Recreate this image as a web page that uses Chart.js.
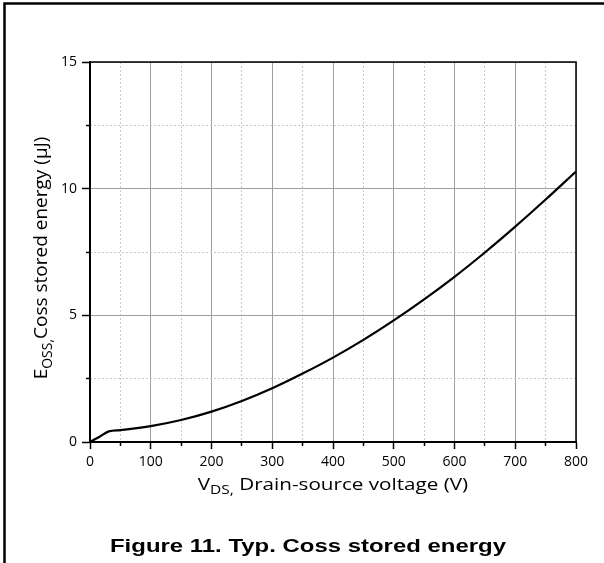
<!DOCTYPE html>
<html>
<head>
<meta charset="utf-8">
<script src="https://cdn.jsdelivr.net/npm/chart.js@4/dist/chart.umd.min.js"></script>
<style>
  html, body { margin: 0; padding: 0; background: #fff; }
  canvas { display: block; }
</style>
</head>
<body>
<canvas id="chart" width="604" height="563"></canvas>
<script>
// values
const voltage = [0, 15, 31, 50, 100, 150, 200, 250, 300, 350, 400, 450, 500, 550, 600, 650, 700, 750, 800];
const energy  = [0, 0.2, 0.42, 0.47, 0.63, 0.87, 1.2, 1.62, 2.12, 2.7, 3.33, 4.03, 4.8, 5.63, 6.52, 7.48, 8.5, 9.57, 10.68];

const xTickLabels = [0, 100, 200, 300, 400, 500, 600, 700, 800];
const yTickLabels = [0, 5, 10, 15];

const tickFont = { family: '"Open Sans", "DejaVu Sans", sans-serif', size: 14 };

// axis titles with subscripts + outer frame + plot box
const extras = {
  id: 'extras',
  afterDraw(chart) {
    const ctx = chart.ctx;
    const a = chart.chartArea;
    ctx.save();

    // frame of the figure (top and left only)
    ctx.strokeStyle = '#000';
    ctx.lineWidth = 2.5;
    ctx.beginPath();
    ctx.moveTo(4.5, 563);
    ctx.lineTo(4.5, 3.5);
    ctx.lineTo(604, 3.5);
    ctx.stroke();

    // top / right of plot box
    ctx.lineWidth = 1.5;
    ctx.beginPath();
    ctx.moveTo(a.left, a.top);
    ctx.lineTo(a.right, a.top);
    ctx.lineTo(a.right, a.bottom);
    ctx.stroke();

    ctx.fillStyle = '#000';
    ctx.textBaseline = 'alphabetic';

    function subText(parts, cx, cy, size, stretch) {
      const big = size + 'px "Open Sans", "DejaVu Sans", sans-serif';
      const small = Math.round(size * 0.72) + 'px "Open Sans", "DejaVu Sans", sans-serif';
      let w = 0;
      parts.forEach(p => { ctx.font = p[1] ? small : big; w += ctx.measureText(p[0]).width; });
      ctx.save();
      ctx.translate(cx, cy);
      ctx.scale(stretch, 1);
      let x = -w / 2;
      parts.forEach(p => {
        ctx.font = p[1] ? small : big;
        ctx.fillText(p[0], x, p[1] ? size * 0.28 : 0);
        x += ctx.measureText(p[0]).width;
      });
      ctx.restore();
    }

    // x title
    subText([['V', false], ['DS,', true], [' Drain-source voltage (V)', false]], (a.left + a.right) / 2, 490, 16, 1.29);

    // y title
    ctx.save();
    ctx.translate(47, 258);
    ctx.rotate(-Math.PI / 2);
    subText([['E', false], ['OSS,', true], ['Coss stored energy (\u00b5J)', false]], 0, 0, 19, 1);
    ctx.restore();

    // figure caption
    ctx.save();
    ctx.translate(308, 552);
    ctx.scale(1.33, 1);
    ctx.font = 'bold 18px "Liberation Sans", Arial, sans-serif';
    ctx.textAlign = 'center';
    ctx.fillText('Figure 11. Typ. Coss stored energy', 0, 0);
    ctx.restore();

    ctx.restore();
  }
};

new Chart(document.getElementById('chart'), {
  type: 'line',
  data: {
    datasets: [{
      data: voltage.map((v, i) => ({ x: v, y: energy[i] })),
      borderColor: '#000',
      borderWidth: 2.2,
      pointRadius: 0,
      fill: false,
      cubicInterpolationMode: 'monotone'
    }]
  },
  options: {
    responsive: false,
    animation: false,
    layout: { padding: { left: 0, right: 28, top: 62, bottom: 61 } },
    plugins: { legend: { display: false }, tooltip: { enabled: false }, title: { display: false } },
    scales: {
      x: {
        type: 'linear', min: 0, max: 800, weight: 1,
        ticks: {
          stepSize: 100, padding: 5, color: '#000', font: tickFont, maxRotation: 0,
          callback: v => xTickLabels.includes(v) ? v : ''
        },
        grid: { color: '#9e9e9e', lineWidth: 1, tickLength: 7, tickColor: '#000', tickWidth: 1.5 },
        border: { color: '#000', width: 2 },
        afterFit: s => { s.height = 60; }
      },
      xMinor: {
        type: 'linear', min: 0, max: 800, position: 'bottom', weight: 0,
        ticks: { stepSize: 50, display: false },
        grid: {
          color: c => c.tick && c.tick.value % 100 === 0 ? 'rgba(0,0,0,0)' : '#c8c8c8',
          tickColor: c => c.tick && c.tick.value % 100 === 0 ? 'rgba(0,0,0,0)' : '#000',
          tickLength: 4, tickWidth: 1.5, lineWidth: 1
        },
        border: { display: false, dash: [2, 2] },
        afterFit: s => { s.height = 0; }
      },
      y: {
        type: 'linear', min: 0, max: 15, weight: 1,
        ticks: {
          stepSize: 5, padding: 5, color: '#000', font: tickFont,
          callback: v => yTickLabels.includes(v) ? v : ''
        },
        grid: { color: '#9e9e9e', lineWidth: 1, tickLength: 8, tickColor: '#000', tickWidth: 1.5 },
        border: { color: '#000', width: 2 },
        afterFit: s => { s.width = 90; }
      },
      yMinor: {
        type: 'linear', min: 0, max: 15, position: 'left', weight: 0,
        ticks: { stepSize: 2.5, display: false },
        grid: {
          color: c => c.tick && c.tick.value % 5 === 0 ? 'rgba(0,0,0,0)' : '#c8c8c8',
          tickColor: c => c.tick && c.tick.value % 5 === 0 ? 'rgba(0,0,0,0)' : '#000',
          tickLength: 4, tickWidth: 1.5, lineWidth: 1
        },
        border: { display: false, dash: [2, 2] },
        afterFit: s => { s.width = 0; }
      }
    }
  },
  plugins: [extras]
});
</script>
</body>
</html>
